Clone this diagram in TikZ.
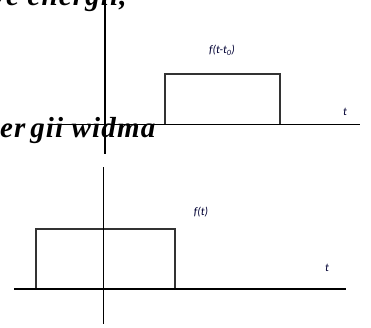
\documentclass[tikz,border=0pt]{standalone}
\usepackage{fontspec}
\setmainfont{Liberation Serif}
\newfontfamily\lblfont{Carlito}
\newfontfamily\bigfont[LetterSpace=4]{Liberation Serif}
\begin{document}
\begin{tikzpicture}[x=1pt,y=-1pt,
  axis/.style={line width=1.1pt,black},
  pulse/.style={line width=1.1pt,black!80},
  lbl/.style={font=\lblfont\itshape\fontsize{11.5}{12}\selectfont,text=black!80!blue,inner sep=0pt},
  big/.style={font=\bigfont\bfseries\itshape\fontsize{29}{32}\selectfont,inner sep=0pt,anchor=base west}]
\useasboundingbox (0,0) rectangle (371,327);
\clip (0,0) rectangle (371,327);
% top diagram
\coordinate (v1t) at (105,0);
\coordinate (v1b) at (105,154);
\coordinate (h1l) at (48,124.5);
\coordinate (h1r) at (360,124.5);
\draw[axis] (v1t) -- (v1b);
\draw[pulse] (165,124.5) |- (280,74) -- (280,124.5);
\node[big] (tx1) at (-8,5) {ve energii,};
\node[big] (tx2) at (0,137) {er\,gii widma};
\draw[axis] (h1l) -- (h1r);
\node[lbl] (f1) at (222,50) {f(t-t\textsubscript{0})};
\node[lbl] (t1) at (345,112) {t};
% bottom diagram
\coordinate (v2t) at (103.5,167);
\coordinate (v2b) at (103.5,324);
\coordinate (h2l) at (14,289);
\coordinate (h2r) at (346,289);
\draw[pulse] (36,289) rectangle (175,229);
\draw[axis] (v2t) -- (v2b);
\draw[axis] (h2l) -- (h2r);
\node[lbl] (f2) at (201,212) {f(t)};
\node[lbl] (t2) at (327,268) {t};
\end{tikzpicture}
\end{document}
